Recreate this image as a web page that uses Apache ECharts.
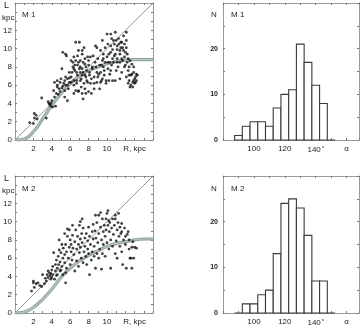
<!DOCTYPE html>
<html><head><meta charset="utf-8">
<script src="https://cdn.jsdelivr.net/npm/echarts@6/dist/echarts.min.js"></script>
<style>html,body{margin:0;padding:0;background:#fff}#c{width:364px;height:328px}</style>
</head><body><div id="c"></div>
<script>
// ---- data ----
const m1Points = [
[1.6,1.9],[2.1,2.9],[2.3,2.7],[2.1,2.4],[2.4,2.3],[2.0,1.8],[2.9,4.6],[3.4,2.4],[3.6,4.2],[3.7,4.0],[3.75,3.9],[3.9,4.0],
[4.3,4.7],[4.2,5.4],[4.3,6.3],[4.4,3.7],[4.6,5.8],[4.6,6.5],[4.8,5.6],[4.9,6.3],[5.0,6.7],[5.1,7.8],[5.2,9.6],[5.2,5.9],
[5.4,5.4],[5.4,6.5],[5.5,6.9],[5.6,9.2],[5.7,4.3],[5.7,6.0],[5.9,7.4],[5.9,6.3],[6.1,8.7],[6.1,6.9],[6.3,8.0],[6.4,6.0],
[6.4,9.1],[6.5,7.6],[6.6,8.7],[6.6,5.4],[6.7,6.5],[6.8,8.2],[6.9,9.8],[6.9,5.3],[7.0,10.7],[7.1,7.4],[7.1,8.7],[7.2,6.7],
[7.3,9.4],[7.3,7.8],[7.4,4.5],[7.5,10.1],[7.6,5.6],[7.6,8.3],[7.7,6.9],[7.8,7.6],[7.9,9.1],[7.9,6.3],[8.0,8.7],[8.1,7.4],
[8.2,6.2],[8.3,5.1],[8.4,8.0],[8.5,9.2],[8.6,6.9],[8.75,10.3],[8.8,8.0],[8.9,6.3],[9.0,8.9],[9.1,7.2],[9.2,5.6],[9.3,9.8],
[9.4,8.2],[9.5,10.9],[9.5,6.7],[9.6,8.9],[9.7,7.6],[9.8,10.1],[9.9,6.5],[10.0,11.6],[10.1,8.5],[10.2,9.4],[10.3,7.2],[10.4,11.6],
[10.4,10.3],[10.5,8.2],[10.6,6.5],[10.7,10.9],[10.8,9.2],[10.9,11.8],[11.0,7.6],[11.1,10.3],[11.1,8.5],[11.25,11.1],[11.4,9.8],[11.4,6.7],
[11.5,10.7],[11.6,8.9],[11.7,10.1],[11.8,11.4],[11.9,8.0],[12.0,9.6],[12.1,6.9],[12.1,11.8],[12.2,8.5],[12.3,7.6],[12.3,6.2],[12.4,6.5],
[12.5,5.8],[12.6,7.1],[12.7,8.3],[12.8,6.3],[12.9,7.4],[13.0,6.7],[13.1,6.3],[13.2,7.2],
[3.9,3.7],[4.1,3.6],[4.0,4.3],[4.5,5.1],[4.6,6.0],[4.7,5.0],[4.9,5.3],[5.1,5.7],[5.3,6.2],[5.5,6.0],[5.7,6.7],[5.8,5.6],
[5.9,6.8],[6.1,6.3],[6.2,7.4],[6.3,8.5],[6.4,7.8],[6.4,6.5],[6.5,8.2],[6.7,7.4],[6.7,6.2],[6.8,7.1],[6.9,8.5],[7.0,7.8],
[7.1,6.5],[7.1,8.0],[7.2,5.8],[7.3,7.1],[7.4,8.5],[7.4,7.4],[7.5,6.2],[7.6,8.9],[7.6,7.1],[7.7,8.0],[7.8,6.5],[8.0,8.2],
[8.1,7.1],[8.2,9.1],[8.3,6.7],[8.4,7.8],[8.6,6.2],[8.7,8.5],[8.9,7.4],[8.9,10.1],[9.0,6.9],[9.2,8.2],[9.3,7.4],[9.4,6.5],
[9.5,8.7],[9.6,9.4],[9.6,8.0],[9.7,7.1],[9.8,8.5],[9.9,6.2],[10.0,9.1],[10.1,7.8],[10.1,10.5],[10.2,6.5],[10.3,8.5],[10.4,9.6],
[10.4,7.6],[10.5,11.1],[10.6,8.9],[10.6,9.9],[10.7,8.5],[10.8,10.5],[10.9,6.5],[10.9,9.4],[11.0,10.9],[11.1,8.9],[11.1,9.9],[11.2,8.0],
[11.3,10.5],[11.4,8.5],[11.4,9.4],[11.5,10.1],[11.6,7.4],[11.6,10.7],[11.7,8.7],[11.8,9.8],[11.9,10.5],[11.9,9.1],[12.0,8.2],[12.1,10.1],
[12.1,10.9],[12.2,9.4],[12.3,8.9],[12.4,8.0],[12.4,7.1],[12.5,8.7],[12.6,6.0],[12.7,7.2],[12.8,5.8],[12.9,6.5],[12.9,8.0],[13.0,6.2],
[13.1,6.9],[13.2,6.5],[13.3,7.1],[5.5,9.4],[6.6,10.7],[6.8,9.2],[7.3,9.8],[5.4,4.7],[6.4,5.1],[6.9,5.4],[7.7,5.1],[8.0,5.3],
[7.3,5.1],[8.6,5.6],[9.3,6.3]
];
const m2Points = [
[1.8,2.4],[2.0,3.3],[2.0,3.5],[2.3,3.2],[2.5,3.3],[2.1,2.8],[2.7,3.0],[2.9,2.9],[3.0,4.2],[3.2,3.2],[3.3,3.8],[3.4,3.5],
[3.5,4.2],[3.6,4.6],[3.6,3.9],[3.75,4.4],[3.8,4.1],[3.9,3.7],[3.9,4.3],[4.0,4.7],[4.0,3.9],[4.1,5.1],[4.1,4.2],[4.2,6.6],
[4.3,3.7],[4.4,5.3],[4.4,4.6],[4.5,5.8],[4.5,4.1],[4.6,4.9],[4.7,6.2],[4.75,5.3],[4.8,6.9],[4.9,4.6],[4.9,5.6],[5.0,6.6],
[5.1,7.5],[5.1,5.1],[5.2,6.0],[5.25,7.1],[5.4,5.5],[5.4,6.4],[5.5,7.5],[5.5,3.3],[5.6,4.9],[5.6,6.7],[5.7,8.4],[5.8,6.0],
[5.9,7.2],[5.9,9.1],[6.0,5.3],[6.0,8.0],[6.1,6.7],[6.1,7.5],[6.2,5.8],[6.25,8.5],[6.3,7.1],[6.4,6.4],[6.5,7.8],[6.5,4.6],
[6.6,9.1],[6.7,7.0],[6.7,5.7],[6.8,8.4],[6.9,7.5],[6.9,5.1],[7.0,9.6],[7.0,6.6],[7.1,8.1],[7.1,7.2],[7.2,6.0],[7.25,8.7],
[7.3,7.7],[7.4,5.5],[7.4,9.3],[7.5,6.7],[7.6,8.2],[7.6,7.3],[7.7,6.2],[7.75,8.7],[7.8,5.3],[7.9,7.9],[7.9,7.0],[8.0,9.4],
[8.0,6.5],[8.1,8.4],[8.1,4.2],[8.2,7.5],[8.3,5.8],[8.4,8.9],[8.4,6.7],[8.5,8.1],[8.5,9.7],[8.6,6.2],[8.6,7.3],[8.7,9.0],
[8.75,4.9],[8.8,8.2],[8.9,6.5],[8.9,9.9],[9.0,7.7],[9.1,8.7],[9.1,10.7],[9.1,6.0],[9.2,7.0],[9.3,9.4],[9.4,8.0],[9.4,4.8],
[9.5,10.3],[9.5,6.5],[9.6,8.9],[9.6,7.5],[9.7,9.6],[9.8,8.4],[9.8,6.2],[9.9,9.1],[9.9,10.3],[10.0,7.7],[10.1,9.6],[10.1,11.2],
[10.2,7.0],[10.25,8.9],[10.3,9.9],[10.4,8.0],[10.4,4.9],[10.5,9.3],[10.6,7.3],[10.6,10.3],[10.7,8.6],[10.8,9.6],[10.9,6.5],[10.9,10.7],
[11.0,7.9],[11.1,9.1],[11.1,6.0],[11.2,9.9],[11.3,8.4],[11.4,7.3],[11.4,9.4],[11.5,8.7],[11.6,6.7],[11.6,8.9],[11.7,5.3],[11.8,8.0],
[11.9,9.3],[12.0,8.4],[12.0,7.5],[12.1,4.9],[12.2,8.6],[12.3,8.9],[12.4,8.0],[12.4,7.0],[12.5,6.0],[12.6,6.0],[12.7,7.2],[12.8,7.8],
[12.9,6.0],[13.0,7.2],[13.2,7.1],[12.7,4.9],[8.75,10.7],[9.3,11.0],[10.0,10.9],[10.2,10.1],[10.9,10.3],[11.25,10.9],[11.6,9.8],
[4.8,8.0],[5.4,8.7],[5.7,9.2],[6.25,9.6],[7.1,10.0],[7.3,10.3],[4.6,4.2],[5.0,4.7],[5.2,4.2],[5.5,4.4]
];
const curveR  = [0, 1, 2, 3, 4, 5, 6, 7, 8, 9, 10, 11, 12, 13, 14, 15];
const m1Curve = [0, 0.1, 0.9, 2.3, 3.8, 5.1, 6.2, 7.0, 7.6, 8.0, 8.35, 8.6, 8.75, 8.8, 8.8, 8.8];
const m2Curve = [0, 0.1, 0.6, 1.5, 2.6, 3.9, 4.9, 5.7, 6.3, 6.8, 7.3, 7.6, 7.8, 8.0, 8.1, 8.1];
const alphaBins = [90, 95, 100, 105, 110, 115, 120, 125, 130, 135, 140, 145, 150];
const m1Counts  = [1, 3, 4, 4, 3, 7, 10, 11, 21, 17, 12, 8, 0];
const m2Counts  = [0, 2, 2, 4, 5, 13, 24, 25, 23, 17, 7, 7, 0];
const rTickLabels = {2:'2', 4:'4', 6:'6', 8:'8', 10:'10', 13:'R, kpc'};
const lTickLabels = [0, 2, 4, 6, 8, 10, 12];
const aTickLabels = {100:'100', 120:'120', 140:'140{d|o}', 160:'α'};
const nTickLabels = [0, 10, 20];

// ---- chart ----
const chart = echarts.init(document.getElementById('c'), null, {renderer:'canvas'});
const FONT = 'Liberation Sans, Arial, sans-serif';
const boxColor = '#9a9a9a';
const grids = [
  {left:15, top:3, width:138, height:137},
  {left:223, top:3, width:136, height:137},
  {left:15, top:176, width:138, height:137},
  {left:223, top:176, width:136, height:137}
];
function baseAxis(gi, pos, min, max, interval, label) {
  return {
    gridIndex: gi, type:'value', position: pos, min: min, max: max, interval: interval,
    axisLine:{show:true, onZero:false, lineStyle:{color:boxColor, width:1}},
    axisTick:{show:true, inside:true, length:2, lineStyle:{color:'#777', width:1}},
    splitLine:{show:false},
    axisLabel: label || {show:false}
  };
}
const xLabelR = {show:true, fontSize:8, color:'#222', fontFamily:FONT, margin:5,
  formatter: v => rTickLabels[v] || ''};
const yLabelL = {show:true, fontSize:8, color:'#222', fontFamily:FONT, margin:3,
  formatter: v => lTickLabels.indexOf(v) >= 0 ? String(v) : ''};
const xLabelA = {show:true, fontSize:8, color:'#222', fontFamily:FONT, margin:5,
  formatter: v => aTickLabels[v] || '',
  rich:{d:{fontSize:4, color:'#222', verticalAlign:'top', padding:[0,0,6,1]}}};
const yLabelN = {show:true, fontSize:7, fontWeight:'bold', color:'#222', fontFamily:FONT, margin:5,
  formatter: v => nTickLabels.indexOf(v) >= 0 ? String(v) : ''};

const xAxes = [], yAxes = [];
[0,2].forEach(g => {
  xAxes.push(baseAxis(g,'bottom',0,15,1,xLabelR));
  xAxes.push(baseAxis(g,'top',0,15,1,null));
  yAxes.push(baseAxis(g,'left',0,15,1,yLabelL));
  yAxes.push(baseAxis(g,'right',0,15,1,null));
});
[1,3].forEach(g => {
  xAxes.push(baseAxis(g,'bottom',80,168,10,xLabelA));
  xAxes.push(baseAxis(g,'top',80,168,10,null));
  yAxes.push(baseAxis(g,'left',0,30,5,yLabelN));
  yAxes.push(baseAxis(g,'right',0,30,5,null));
});
// axis index: scatter grids 0 -> 0, grid 2 -> 2; hist grid1 -> 4, grid3 -> 6
const series = [];
function addScatterPanel(axisIdx, pts, curve) {
  series.push({type:'line', xAxisIndex:axisIdx, yAxisIndex:axisIdx, data:[[0,0],[15,15]],
    symbol:'none', lineStyle:{color:'#666', width:0.7}, silent:true, z:1});
  series.push({type:'line', xAxisIndex:axisIdx, yAxisIndex:axisIdx,
    data: curveR.map((r,i) => [r, curve[i]]), smooth:0.4, symbol:'none',
    lineStyle:{color:'#8ea09b', width:3.2}, z:2});
  series.push({type:'line', xAxisIndex:axisIdx, yAxisIndex:axisIdx,
    data: curveR.map((r,i) => [r, curve[i]]), smooth:0.4, symbol:'none',
    lineStyle:{color:'#b9c6c2', width:1.2}, z:3});
  series.push({type:'scatter', xAxisIndex:axisIdx, yAxisIndex:axisIdx, data: pts,
    symbol:'circle', symbolSize:2.8, itemStyle:{color:'#111'}, z:4});
}
function addHistPanel(axisIdx, counts) {
  series.push({type:'custom', xAxisIndex:axisIdx, yAxisIndex:axisIdx,
    data: alphaBins.map((a,i) => [a, counts[i]]), encode:{x:0, y:1},
    renderItem: function(params, api) {
      const a = api.value(0), n = api.value(1);
      const p0 = api.coord([a - 2.5, n]);
      const p1 = api.coord([a + 2.5, 0]);
      return {type:'rect', shape:{x:p0[0], y:p0[1], width:p1[0]-p0[0], height:p1[1]-p0[1]},
        style:{fill:'#fff', stroke:'#3a3a3a', lineWidth:1.1}};
    }, z:3});
}
addScatterPanel(0, m1Points, m1Curve);
addScatterPanel(2, m2Points, m2Curve);
addHistPanel(4, m1Counts);
addHistPanel(6, m2Counts);

function txt(x, y, s, size, extra) {
  return Object.assign({type:'text', left:x, top:y, style:{text:s, fontSize:size||8, fill:'#222', fontFamily:FONT}}, extra||{});
}
const graphic = [
  txt(4, 1, 'L', 9), txt(2, 14, 'kpc', 8), txt(22, 11, 'M 1', 8),
  txt(4, 174, 'L', 9), txt(2, 187, 'kpc', 8), txt(22, 185, 'M 2', 8),
  txt(211, 11, 'N', 8), txt(231, 11, 'M 1', 8),
  txt(211, 185, 'N', 8), txt(231, 185, 'M 2', 8)
];

chart.setOption({
  animation:false,
  backgroundColor:'#fff',
  grid: grids,
  xAxis: xAxes, yAxis: yAxes,
  series: series,
  graphic: graphic
});
</script></body></html>
